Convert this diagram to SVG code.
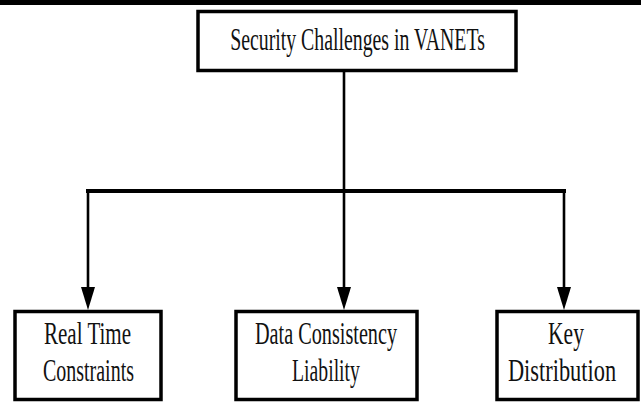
<svg xmlns="http://www.w3.org/2000/svg" width="641" height="403" viewBox="0 0 641 403">
<style>
.box{fill:#fff;stroke:#000;stroke-width:3.5}
.t{font-family:"Liberation Serif","Times New Roman",serif;font-size:31px;fill:#111;text-anchor:middle}
.c{stroke:#000;stroke-width:2.6;fill:none}
</style>
<rect x="0" y="0" width="641" height="5" fill="#000"/>
<g id="connectors">
<line class="c" x1="344" y1="71" x2="344" y2="191"/>
<line x1="86" y1="191" x2="566" y2="191" stroke="#000" stroke-width="4"/>
<line class="c" x1="88" y1="191" x2="88" y2="287"/>
<line class="c" x1="344" y1="191" x2="344" y2="287"/>
<line class="c" x1="564" y1="191" x2="564" y2="287"/>
<path d="M81,287 L95,287 L88,310 Z" fill="#000"/>
<path d="M337,287 L351,287 L344,310 Z" fill="#000"/>
<path d="M557,287 L571,287 L564,310 Z" fill="#000"/>
</g>
<g id="root">
<rect class="box" x="198" y="11.5" width="318" height="59"/>
<text class="t" transform="translate(357.5,50) scale(0.64,1)" textLength="398" lengthAdjust="spacingAndGlyphs">Security Challenges in VANETs</text>
</g>
<g id="realtime">
<rect class="box" x="15" y="311.5" width="146" height="88"/>
<text class="t" transform="translate(87.5,344) scale(0.66,1)" textLength="132" lengthAdjust="spacingAndGlyphs">Real Time</text>
<text class="t" transform="translate(88.5,381) scale(0.64,1)" textLength="142" lengthAdjust="spacingAndGlyphs">Constraints</text>
</g>
<g id="data">
<rect class="box" x="236" y="311.5" width="181" height="88"/>
<text class="t" transform="translate(326,344) scale(0.64,1)" textLength="222" lengthAdjust="spacingAndGlyphs">Data Consistency</text>
<text class="t" transform="translate(326,381) scale(0.64,1)" textLength="106" lengthAdjust="spacingAndGlyphs">Liability</text>
</g>
<g id="key">
<rect class="box" x="497" y="311.5" width="141" height="88"/>
<text class="t" transform="translate(566,344) scale(0.64,1)" textLength="56" lengthAdjust="spacingAndGlyphs">Key</text>
<text class="t" transform="translate(562,381) scale(0.64,1)" textLength="169" lengthAdjust="spacingAndGlyphs">Distribution</text>
</g>
</svg>
